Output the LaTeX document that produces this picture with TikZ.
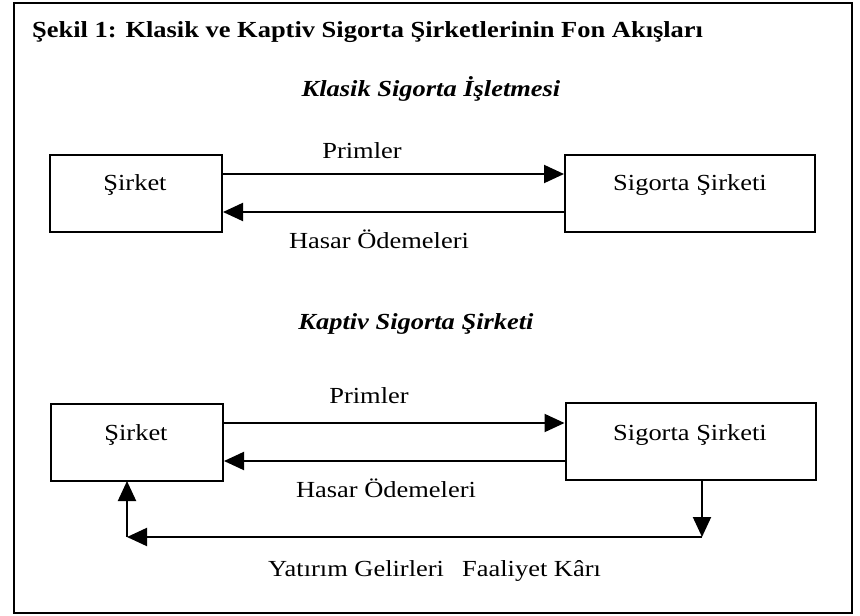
\documentclass[tikz,border=0pt]{standalone}
\usepackage{fontspec}
\setmainfont{Liberation Serif}[FakeStretch=1.15]
\usetikzlibrary{arrows.meta}
\begin{document}
\begin{tikzpicture}[x=1pt,y=-1pt,
  box/.style={draw,line width=2pt,minimum width=172pt,minimum height=77pt,inner sep=0pt},
  bigbox/.style={draw,line width=2pt,minimum width=250pt,minimum height=77pt,inner sep=0pt},
  flow/.style={line width=2pt,-{Triangle[length=20pt,width=18pt]}},
  txt/.style={font=\fontsize{23}{27}\selectfont,inner sep=0pt,anchor=base},
  ttl/.style={font=\fontsize{23}{27}\selectfont\bfseries,inner sep=0pt,anchor=base west},
  sub/.style={font=\fontsize{23}{27}\selectfont\bfseries\itshape,inner sep=0pt,anchor=base}]
\useasboundingbox (0,0) rectangle (860,616);
\draw[line width=2.5pt] (14,3) rectangle (852,613);
\node[ttl] (title) at (32,37) {Şekil 1: Klasik ve Kaptiv Sigorta Şirketlerinin Fon Akışları};
% top section
\node[sub] (sub1) at (431,96) {Klasik Sigorta İşletmesi};
\node[box] (s1) at (136,193) {};
\node[bigbox] (g1) at (690,193) {};
\node[txt] (s1t) at (135,190) {Şirket};
\node[txt] (g1t) at (690,190) {Sigorta Şirketi};
\coordinate (a1) at (s1.east |- 0,174);
\coordinate (b1) at (g1.west |- 0,174);
\coordinate (c1) at (g1.west |- 0,212);
\coordinate (d1) at (s1.east |- 0,212);
\draw[flow] (a1) -- (b1);
\draw[flow] (c1) -- (d1);
\node[txt] (p1) at (362,158) {Primler};
\node[txt] (h1) at (379,248) {Hasar Ödemeleri};
% bottom section
\node[sub] (sub2) at (416,329) {Kaptiv Sigorta Şirketi};
\node[box] (s2) at (137,442.5) {};
\node[bigbox] (g2) at (690.5,441.5) {};
\node[txt] (s2t) at (136,440) {Şirket};
\node[txt] (g2t) at (690,440) {Sigorta Şirketi};
\coordinate (a2) at (s2.east |- 0,423);
\coordinate (b2) at (g2.west |- 0,423);
\coordinate (c2) at (g2.west |- 0,461);
\coordinate (d2) at (s2.east |- 0,461);
\draw[flow] (a2) -- (b2);
\draw[flow] (c2) -- (d2);
\node[txt] (p2) at (369,403) {Primler};
\node[txt] (h2) at (386,497) {Hasar Ödemeleri};
\coordinate (e2) at (702,480.5);
\coordinate (f2) at (702,537);
\coordinate (k2) at (127,537);
\coordinate (m2) at (127,481);
\draw[flow] (e2) -- (f2);
\draw[flow] (f2) -- (k2);
\draw[flow] (k2) -- (m2);
\node[txt,anchor=base west] (y2) at (268,576) {Yatırım Gelirleri\hspace{0.5em} Faaliyet Kârı};
\end{tikzpicture}
\end{document}
